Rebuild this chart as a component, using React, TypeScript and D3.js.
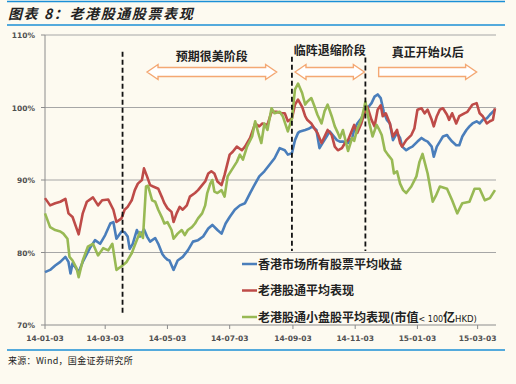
import React from 'react';
import * as d3 from 'd3';

type Pt = [string, number];

const blueSeries: Pt[] = [
  ['2014-01-03',77.3],['2014-01-08',77.6],['2014-01-13',78.2],['2014-01-18',78.7],['2014-01-23',79.4],
  ['2014-01-26',78.7],['2014-01-28',77.1],['2014-01-30',78.5],['2014-02-05',77.3],['2014-02-09',78.7],
  ['2014-02-16',80.6],['2014-02-21',81.7],['2014-02-26',81.2],['2014-03-03',82.4],['2014-03-08',84.0],
  ['2014-03-11',84.2],['2014-03-14',81.9],['2014-03-19',82.9],['2014-03-22',82.8],['2014-03-25',82.2],
  ['2014-03-27',80.5],['2014-03-30',81.2],['2014-04-03',83.1],['2014-04-06',82.2],['2014-04-10',83.2],
  ['2014-04-13',82.2],['2014-04-16',81.5],['2014-04-21',82.0],['2014-04-24',81.2],['2014-04-28',79.8],
  ['2014-04-30',79.4],['2014-05-03',79.0],['2014-05-05',78.9],['2014-05-09',77.6],['2014-05-13',78.9],
  ['2014-05-18',79.4],['2014-05-23',80.3],['2014-05-28',81.5],['2014-06-02',81.7],['2014-06-07',82.2],
  ['2014-06-12',83.3],['2014-06-16',83.8],['2014-06-21',83.1],['2014-06-25',82.6],['2014-06-29',84.0],
  ['2014-07-03',84.9],['2014-07-08',85.9],['2014-07-13',86.5],['2014-07-18',86.8],['2014-07-23',88.2],
  ['2014-07-28',89.5],['2014-08-01',90.5],['2014-08-06',91.2],['2014-08-11',92.1],['2014-08-16',93.0],
  ['2014-08-21',94.4],['2014-08-26',94.1],['2014-08-29',93.5],['2014-09-02',93.7],['2014-09-05',95.5],
  ['2014-09-08',96.5],['2014-09-10',96.7],['2014-09-15',96.9],['2014-09-19',97.1],['2014-09-22',97.4],
  ['2014-09-26',96.9],['2014-09-29',94.4],['2014-10-02',95.1],['2014-10-06',96.0],['2014-10-09',96.7],
  ['2014-10-12',96.2],['2014-10-16',95.5],['2014-10-19',95.3],['2014-10-22',95.3],['2014-10-27',95.1],
  ['2014-10-31',95.8],['2014-11-02',96.9],['2014-11-05',97.8],['2014-11-09',98.5],['2014-11-12',99.4],
  ['2014-11-15',99.9],['2014-11-19',100.6],['2014-11-22',101.5],['2014-11-25',101.8],['2014-11-28',101.3],
  ['2014-12-01',99.4],['2014-12-04',98.3],['2014-12-07',97.8],['2014-12-10',95.5],['2014-12-14',96.5],
  ['2014-12-17',95.8],['2014-12-19',94.6],['2014-12-23',94.1],['2014-12-26',94.4],['2014-12-29',94.6],
  ['2015-01-03',95.3],['2015-01-07',95.8],['2015-01-10',95.5],['2015-01-13',95.3],['2015-01-17',94.6],
  ['2015-01-19',93.2],['2015-01-22',94.6],['2015-01-25',95.3],['2015-01-28',96.0],['2015-02-01',96.2],
  ['2015-02-03',95.8],['2015-02-06',95.3],['2015-02-10',94.8],['2015-02-13',94.8],['2015-02-16',96.0],
  ['2015-02-20',96.9],['2015-02-23',97.4],['2015-02-26',97.8],['2015-03-02',98.1],['2015-03-05',97.8],
  ['2015-03-08',98.3],['2015-03-12',98.5],['2015-03-15',99.0],['2015-03-20',99.7],
];

const redSeries: Pt[] = [
  ['2014-01-03',87.5],['2014-01-08',86.5],['2014-01-13',86.8],['2014-01-18',87.0],['2014-01-23',87.4],
  ['2014-01-26',85.4],['2014-01-30',84.9],['2014-02-05',82.5],['2014-02-09',85.4],['2014-02-13',87.0],
  ['2014-02-19',87.6],['2014-02-24',86.5],['2014-02-28',87.2],['2014-03-06',87.3],['2014-03-11',85.9],
  ['2014-03-14',84.2],['2014-03-19',84.7],['2014-03-22',85.9],['2014-03-25',86.3],['2014-03-29',87.2],
  ['2014-04-01',88.6],['2014-04-04',89.5],['2014-04-08',90.0],['2014-04-10',91.6],['2014-04-13',90.5],
  ['2014-04-16',89.3],['2014-04-19',89.1],['2014-04-24',88.8],['2014-04-28',87.5],['2014-04-30',86.8],
  ['2014-05-03',86.1],['2014-05-07',85.6],['2014-05-09',84.2],['2014-05-12',85.4],['2014-05-15',86.3],
  ['2014-05-18',85.9],['2014-05-22',86.5],['2014-05-25',87.7],['2014-05-30',88.2],['2014-06-02',88.6],
  ['2014-06-06',89.3],['2014-06-09',89.8],['2014-06-12',90.9],['2014-06-15',91.2],['2014-06-18',90.9],
  ['2014-06-21',89.8],['2014-06-25',89.3],['2014-06-28',90.7],['2014-07-03',93.5],['2014-07-06',93.9],
  ['2014-07-10',94.6],['2014-07-15',94.1],['2014-07-18',94.6],['2014-07-23',95.8],['2014-07-28',97.8],
  ['2014-08-01',97.4],['2014-08-04',97.8],['2014-08-09',97.6],['2014-08-13',99.4],['2014-08-18',99.4],
  ['2014-08-23',99.2],['2014-08-26',99.2],['2014-08-29',98.1],['2014-09-02',98.5],['2014-09-05',100.4],
  ['2014-09-08',101.1],['2014-09-12',100.1],['2014-09-15',98.8],['2014-09-17',98.3],['2014-09-21',97.8],
  ['2014-09-24',97.1],['2014-09-27',96.5],['2014-10-01',95.1],['2014-10-04',96.0],['2014-10-07',96.9],
  ['2014-10-11',96.2],['2014-10-14',94.6],['2014-10-17',94.1],['2014-10-21',94.4],['2014-10-24',95.1],
  ['2014-10-27',95.5],['2014-10-31',96.9],['2014-11-02',97.6],['2014-11-05',96.5],['2014-11-09',97.8],
  ['2014-11-12',99.2],['2014-11-15',100.1],['2014-11-19',98.3],['2014-11-22',97.4],['2014-11-25',99.7],
  ['2014-11-28',100.3],['2014-11-30',98.8],['2014-12-03',99.2],['2014-12-07',97.8],['2014-12-10',96.0],
  ['2014-12-14',96.9],['2014-12-17',95.1],['2014-12-19',94.6],['2014-12-23',95.5],['2014-12-28',96.2],
  ['2014-12-31',97.1],['2015-01-03',99.7],['2015-01-07',99.9],['2015-01-10',99.2],['2015-01-13',99.7],
  ['2015-01-17',98.3],['2015-01-19',97.4],['2015-01-22',98.8],['2015-01-25',99.7],['2015-01-28',99.9],
  ['2015-02-01',99.0],['2015-02-03',98.3],['2015-02-06',99.2],['2015-02-10',97.8],['2015-02-13',98.8],
  ['2015-02-18',99.2],['2015-02-21',99.4],['2015-02-26',100.4],['2015-03-02',100.6],['2015-03-05',99.2],
  ['2015-03-08',98.8],['2015-03-12',97.8],['2015-03-15',98.1],['2015-03-18',98.3],['2015-03-20',99.9],
];

const greenSeries: Pt[] = [
  ['2014-01-03',85.4],['2014-01-08',83.5],['2014-01-13',83.1],['2014-01-18',82.9],['2014-01-21',82.6],
  ['2014-01-25',81.9],['2014-01-27',79.4],['2014-01-30',78.9],['2014-02-03',77.8],['2014-02-05',76.6],
  ['2014-02-09',78.9],['2014-02-14',80.8],['2014-02-19',81.2],['2014-02-24',79.6],['2014-03-01',80.6],
  ['2014-03-06',80.3],['2014-03-10',81.2],['2014-03-14',77.6],['2014-03-19',78.1],['2014-03-24',78.7],
  ['2014-03-29',79.9],['2014-04-01',81.0],['2014-04-06',82.8],['2014-04-09',82.0],['2014-04-12',89.1],
  ['2014-04-14',89.2],['2014-04-18',87.2],['2014-04-21',87.0],['2014-04-24',85.9],['2014-04-28',84.7],
  ['2014-04-30',84.0],['2014-05-03',84.2],['2014-05-07',83.1],['2014-05-09',81.9],['2014-05-13',82.6],
  ['2014-05-17',83.1],['2014-05-20',82.4],['2014-05-23',83.1],['2014-05-27',83.5],['2014-05-30',84.0],
  ['2014-06-02',84.7],['2014-06-06',85.4],['2014-06-09',86.5],['2014-06-11',88.2],['2014-06-14',89.5],
  ['2014-06-16',90.0],['2014-06-18',88.4],['2014-06-21',88.2],['2014-06-25',88.6],['2014-06-28',87.7],
  ['2014-07-01',90.5],['2014-07-05',91.4],['2014-07-10',92.5],['2014-07-13',93.5],['2014-07-16',92.8],
  ['2014-07-20',94.6],['2014-07-25',96.0],['2014-07-28',98.1],['2014-07-31',96.5],['2014-08-03',95.1],
  ['2014-08-06',97.8],['2014-08-09',96.9],['2014-08-13',99.9],['2014-08-16',99.2],['2014-08-21',99.4],
  ['2014-08-24',98.8],['2014-08-29',96.7],['2014-09-02',98.5],['2014-09-05',102.5],['2014-09-08',103.3],
  ['2014-09-12',102.0],['2014-09-15',100.4],['2014-09-17',100.8],['2014-09-21',101.3],['2014-09-24',100.2],
  ['2014-09-27',99.0],['2014-10-01',97.8],['2014-10-04',99.5],['2014-10-07',100.4],['2014-10-11',98.8],
  ['2014-10-14',97.4],['2014-10-17',96.5],['2014-10-19',95.8],['2014-10-22',96.9],['2014-10-27',94.0],
  ['2014-10-31',95.8],['2014-11-02',95.4],['2014-11-05',97.0],['2014-11-09',98.3],['2014-11-12',100.1],
  ['2014-11-13',100.8],['2014-11-17',97.8],['2014-11-20',96.0],['2014-11-24',97.6],['2014-11-26',97.1],
  ['2014-11-29',96.2],['2014-12-02',94.1],['2014-12-05',93.5],['2014-12-09',92.8],['2014-12-11',90.9],
  ['2014-12-14',91.2],['2014-12-17',89.5],['2014-12-20',88.6],['2014-12-23',88.2],['2014-12-28',89.1],
  ['2015-01-02',90.5],['2015-01-05',92.5],['2015-01-08',93.6],['2015-01-13',90.9],['2015-01-18',87.0],
  ['2015-01-21',87.8],['2015-01-25',89.1],['2015-02-01',88.8],['2015-02-06',87.2],['2015-02-11',85.4],
  ['2015-02-16',86.8],['2015-02-23',87.0],['2015-02-28',88.8],['2015-03-05',88.8],['2015-03-10',87.2],
  ['2015-03-15',87.5],['2015-03-20',88.6],
];

const yTicks = [70, 80, 90, 100, 110];
const xTickDates = ['2014-01-03','2014-03-03','2014-05-03','2014-07-03','2014-09-03','2014-11-03','2015-01-03','2015-03-03'];
const xTickLabels = ['14-01-03','14-03-03','14-05-03','14-07-03','14-09-03','14-11-03','15-01-03','15-03-03'];
const phaseDates = ['2014-03-20','2014-09-02','2014-11-13'];
const phaseLabels = ['预期很美阶段','临阵退缩阶段','真正开始以后'];
const arrowStarts = ['2014-04-13','2014-09-05','2014-11-26'];
const arrowEnds = ['2014-08-18','2014-11-12','2015-03-02'];
const legendLabels = ['香港市场所有股票平均收益','老港股通平均表现','老港股通小盘股平均表现(市值'];
const title = '图表 8：老港股通股票表现';
const source = '来源：Wind，国金证券研究所';

const W = 516, H = 384;
const plot = { left: 45, right: 496, top: 35, bottom: 325 };
const parse = d3.timeParse('%Y-%m-%d');
const CJK = '"Noto Sans CJK SC", "Noto Sans", sans-serif';
const colors = ['#4a7ebb', '#be4b48', '#98b954'];
const bg = '#fdfaf0';

export default function App() {
  const x = d3.scaleTime()
    .domain([parse('2014-01-03')!, parse('2015-03-21')!])
    .range([plot.left, plot.right]);
  const y = d3.scaleLinear().domain([70, 110]).range([plot.bottom, plot.top]);
  const line = d3.line<Pt>().x(d => x(parse(d[0])!)).y(d => y(d[1]));
  const series = [blueSeries, redSeries, greenSeries];

  const arrowPath = (x1: number, x2: number, yc: number, double: boolean) => {
    const bh = 4.5, hh = 7.5, hl = 11;
    if (double) {
      return `M${x1},${yc} L${x1 + hl},${yc - hh} L${x1 + hl},${yc - bh} L${x2 - hl},${yc - bh} L${x2 - hl},${yc - hh} L${x2},${yc} L${x2 - hl},${yc + hh} L${x2 - hl},${yc + bh} L${x1 + hl},${yc + bh} L${x1 + hl},${yc + hh} Z`;
    }
    return `M${x1},${yc - bh} L${x2 - hl},${yc - bh} L${x2 - hl},${yc - hh} L${x2},${yc} L${x2 - hl},${yc + hh} L${x2 - hl},${yc + bh} L${x1},${yc + bh} Z`;
  };

  const arrowY = y(104.9);
  const labelYs = [y(107.1), y(107.9), y(107.6)];
  const dashTops = [y(107.7), y(107.0), y(106.9)];
  const dashBottoms = [y(71.3), y(80.2), y(80.2)];

  return (
    <svg width={W} height={H} style={{ position: 'absolute', left: 0, top: 0, background: bg }}>
      <rect x={0} y={0} width={W} height={H} fill={bg} />
      {/* header */}
      <line x1={7} x2={505} y1={1.5} y2={1.5} stroke="#1b8fd6" strokeWidth={1.5} />
      <text x={8} y={19} fontFamily={CJK} fontSize={14} fontWeight="bold" fontStyle="italic" fill="#222" letterSpacing={1.6}>{title}</text>
      <line x1={7} x2={505} y1={25} y2={25} stroke="#1b8fd6" strokeWidth={1.5} />

      {/* gridlines */}
      {yTicks.filter(t => t > 70).map(t => (
        <line key={t} x1={plot.left} x2={plot.right} y1={y(t)} y2={y(t)} stroke="#a6a6a6" strokeWidth={1} />
      ))}
      {/* axes */}
      <line x1={plot.left} x2={plot.left} y1={plot.top} y2={plot.bottom} stroke="#8c8c8c" strokeWidth={1} />
      <line x1={plot.left} x2={plot.right} y1={plot.bottom} y2={plot.bottom} stroke="#8c8c8c" strokeWidth={1} />
      {yTicks.map(t => (
        <g key={t}>
          <line x1={plot.left - 4} x2={plot.left} y1={y(t)} y2={y(t)} stroke="#8c8c8c" />
          <text x={35} y={y(t) + 3} textAnchor="end" fontFamily="DejaVu Sans" fontSize={7.5} fontWeight="bold" fill="#505050">{t}%</text>
        </g>
      ))}
      {xTickDates.map((d, i) => (
        <g key={d}>
          <line x1={x(parse(d)!)} x2={x(parse(d)!)} y1={plot.bottom} y2={plot.bottom + 4} stroke="#8c8c8c" />
          <text x={x(parse(d)!)} y={341} textAnchor="middle" fontFamily="DejaVu Sans" fontSize={7.5} fontWeight="bold" fill="#505050">{xTickLabels[i]}</text>
        </g>
      ))}

      {/* series */}
      {series.map((s, i) => (
        <path key={i} d={line(s) || ''} fill="none" stroke={colors[i]} strokeWidth={2.6} strokeLinejoin="round" />
      ))}

      {/* phase dividers */}
      {phaseDates.map((d, i) => (
        <line key={d} x1={x(parse(d)!)} x2={x(parse(d)!)} y1={dashTops[i]} y2={dashBottoms[i]} stroke="#111" strokeWidth={1.8} strokeDasharray="5,3" />
      ))}

      {/* arrows and labels */}
      {arrowStarts.map((d, i) => {
        const x1 = x(parse(d)!), x2 = x(parse(arrowEnds[i])!);
        return (
          <g key={d}>
            <path d={arrowPath(x1, x2, arrowY, i < 2)} fill="#ffffff" stroke="#f4a873" strokeWidth={1.4} />
            <text x={(x1 + x2) / 2} y={labelYs[i] + 4.5} textAnchor="middle" fontFamily={CJK} fontSize={12} fontWeight="bold" fill="#222">{phaseLabels[i]}</text>
          </g>
        );
      })}

      {/* legend */}
      {legendLabels.map((l, i) => {
        const ly = 264 + i * 26.5;
        return (
          <g key={l}>
            <line x1={242} x2={257} y1={ly} y2={ly} stroke={colors[i]} strokeWidth={2.5} />
            <text x={258} y={ly + 4.5} fontFamily={CJK} fontSize={12} fontWeight="bold" fill="#222">
              {l}
              {i === 2 && (
                <>
                  <tspan fontSize={8} fontWeight="normal" fontFamily="DejaVu Sans">{'< 100'}</tspan>
                  <tspan>亿</tspan>
                  <tspan fontSize={8.5} fontWeight="normal" fontFamily="DejaVu Sans">{'HKD)'}</tspan>
                </>
              )}
            </text>
          </g>
        );
      })}

      {/* footer */}
      <line x1={7} x2={505} y1={350} y2={350} stroke="#1b8fd6" strokeWidth={1.5} />
      <text x={8} y={364} fontFamily={CJK} fontSize={9} fill="#222" letterSpacing={0.3}>{source}</text>
    </svg>
  );
}
